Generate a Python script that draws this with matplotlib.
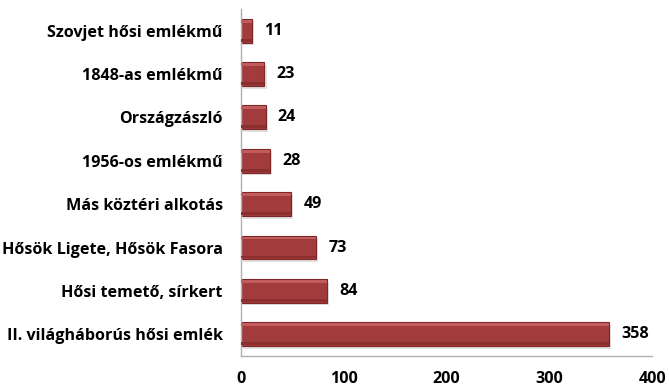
import matplotlib.pyplot as plt

categories = [
    "II. világháborús hősi emlék",
    "Hősi temető, sírkert",
    "Hősök Ligete, Hősök Fasora",
    "Más köztéri alkotás",
    "1956-os emlékmű",
    "Országzászló",
    "1848-as emlékmű",
    "Szovjet hősi emlékmű",
]
values = [358, 84, 73, 49, 28, 24, 23, 11]
xticks = [0, 100, 200, 300, 400]

plt.rcParams['font.family'] = ['Open Sans', 'DejaVu Sans']
FS = 11.6

fig = plt.figure(figsize=(6.69, 3.89), dpi=100)
ax = fig.add_axes([0.360, 0.085, 0.615, 0.892])

ypos = list(range(len(values)))
h = 0.55
# soft shadow
ax.barh([y - 0.06 for y in ypos], values, height=h, left=2, color='#c4c4c4',
        alpha=0.5, zorder=1, linewidth=0)
ax.barh(ypos, values, height=h, color='#A23B3B', edgecolor='#7E2626',
        linewidth=0.8, zorder=2)
# bevel: light strip on top, darker strip at the bottom
ax.barh([y + h * 0.40 for y in ypos], values, height=h * 0.12,
        color='#C25C5C', linewidth=0, zorder=3)
ax.barh([y - h * 0.40 for y in ypos], values, height=h * 0.12,
        color='#8A2E2E', linewidth=0, zorder=3)

for y, v in zip(ypos, values):
    ax.text(v + 12, y, str(v), va='center', ha='left', fontsize=FS,
            fontweight='bold', color='#000000')

ax.set_xlim(0, 400)
ax.set_ylim(-0.5, len(values) - 0.5)
ax.set_yticks(ypos)
ax.set_yticklabels(categories, fontsize=FS, fontweight='bold')
ax.set_xticks(xticks)
ax.set_xticklabels([str(t) for t in xticks], fontsize=FS, fontweight='bold')
ax.tick_params(axis='both', length=0)
ax.tick_params(axis='x', pad=11)
ax.tick_params(axis='y', pad=13)

for side in ['top', 'right']:
    ax.spines[side].set_visible(False)
for side in ['left', 'bottom']:
    ax.spines[side].set_color('#b0b0b0')
    ax.spines[side].set_linewidth(1.0)

fig.savefig('out.png', dpi=100)
